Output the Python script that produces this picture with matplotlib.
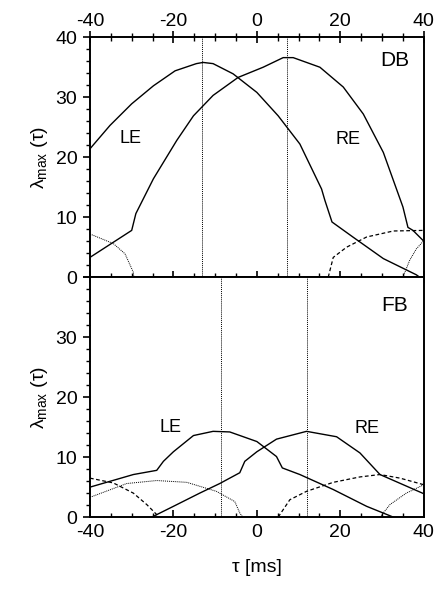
import matplotlib.pyplot as plt
from matplotlib.ticker import MultipleLocator

plt.rcParams['font.family'] = ['Liberation Sans', 'DejaVu Sans']
plt.rcParams['font.size'] = 14
plt.rcParams['axes.unicode_minus'] = False
plt.rcParams['mathtext.fontset'] = 'custom'
plt.rcParams['mathtext.rm'] = 'Liberation Sans'

# panel DB (arriba)
db_le_x = [-40, -35.2, -30, -24.8, -19.6, -14.5, -12.9, -10.5, -5.7, 0, 5.1, 10.3, 15.5, 16.3, 18, 23, 30.3, 38.2, 40]
db_le_y = [21.4, 25.3, 28.9, 31.9, 34.4, 35.6, 35.8, 35.6, 33.9, 30.8, 26.9, 22.2, 14.7, 12.8, 9.2, 6.7, 3.1, 0.4, -0.5]
db_re_x = [-40, -30, -29, -24.8, -19.2, -15.2, -10.5, -4.5, 1.5, 6.3, 8.7, 15.1, 20.7, 25.5, 30.3, 35, 36.2, 37.4, 40]
db_re_y = [3.3, 7.8, 10.6, 16.4, 22.8, 26.9, 30.3, 33.3, 35, 36.6, 36.6, 35, 31.7, 27.2, 20.8, 11.7, 8.3, 7.8, 6.0]
db_dot1_x = [-40, -34.4, -31.6, -29.6, -29.5]
db_dot1_y = [7.2, 5.6, 3.9, 0.8, 0]
db_dot2_x = [35, 36.6, 38.2, 40]
db_dot2_y = [0, 2.8, 4.7, 6.1]
db_dash_x = [17.1, 18.3, 21.5, 26.3, 32.7, 40]
db_dash_y = [0, 3.3, 5.0, 6.7, 7.7, 7.8]
db_vlines = [-13.1, 7.1]

# panel FB (abajo)
fb_le_x = [-40, -29.6, -24, -22.4, -20, -15.2, -10.5, -6.5, 0, 4.7, 6.1, 10.3, 18.3, 26.3, 32.7]
fb_le_y = [5.0, 7.1, 7.8, 9.3, 10.9, 13.6, 14.3, 14.2, 12.6, 10.1, 8.2, 7.1, 4.6, 1.8, 0]
fb_re_x = [-25.2, -20, -13.7, -8.9, -4.1, -2.9, 0, 4.7, 11.9, 19.1, 24.7, 29.5, 40]
fb_re_y = [0, 1.8, 4.0, 5.6, 7.4, 9.3, 10.9, 13.0, 14.3, 13.4, 10.7, 7.1, 3.9]
fb_dot1_x = [-40, -31.2, -24, -16.8, -9.7, -5.3, -4.1, -3.4]
fb_dot1_y = [3.3, 5.6, 6.1, 5.8, 4.3, 2.6, 0.7, 0]
fb_dot2_x = [29.5, 31.9, 35.8, 40]
fb_dot2_y = [0, 2.1, 4.0, 5.4]
fb_dash1_x = [-40, -34.4, -29.6, -26.4, -23.4]
fb_dash1_y = [6.5, 5.7, 4.0, 2.1, 0]
fb_dash2_x = [5.1, 7.9, 11.9, 18.3, 24.7, 29.5, 34.3, 40]
fb_dash2_y = [0, 2.9, 4.3, 5.8, 6.7, 7.1, 6.5, 5.4]
fb_vlines = [-8.7, 11.9]

fig = plt.figure(figsize=(4.41, 5.91), dpi=100)
ax1 = fig.add_axes([0.204, 0.531, 0.757, 0.406])
ax2 = fig.add_axes([0.204, 0.125, 0.757, 0.406])

def dibujar(ax, le, re, dots, dashes, vlines):
    ax.plot(le[0], le[1], color='black', lw=1.0)
    ax.plot(re[0], re[1], color='black', lw=1.0)
    for d in dots:
        ax.plot(d[0], d[1], color='black', lw=0.7, ls=(0, (1, 1)))
    for d in dashes:
        ax.plot(d[0], d[1], color='black', lw=0.9, ls=(0, (3, 2)))
    for v in vlines:
        ax.axvline(v, color='black', lw=0.7, ls=(0, (1, 1)))
    ax.set_xlim(-40, 40)
    ax.set_ylim(0, 40)
    ax.xaxis.set_major_locator(MultipleLocator(20))
    ax.xaxis.set_minor_locator(MultipleLocator(5))
    ax.yaxis.set_major_locator(MultipleLocator(10))
    ax.yaxis.set_minor_locator(MultipleLocator(2))
    for s in ax.spines.values():
        s.set_linewidth(1.4)
    ax.tick_params(axis='y', which='major', direction='out', length=5, width=1.2, pad=4)
    ax.tick_params(axis='y', which='minor', direction='out', length=3, width=1.0)
    ax.set_ylabel(r'λ$_{\mathrm{max}}$ (τ)', fontsize=14, labelpad=4)

dibujar(ax1, (db_le_x, db_le_y), (db_re_x, db_re_y),
        [(db_dot1_x, db_dot1_y), (db_dot2_x, db_dot2_y)],
        [(db_dash_x, db_dash_y)], db_vlines)
dibujar(ax2, (fb_le_x, fb_le_y), (fb_re_x, fb_re_y),
        [(fb_dot1_x, fb_dot1_y), (fb_dot2_x, fb_dot2_y)],
        [(fb_dash1_x, fb_dash1_y), (fb_dash2_x, fb_dash2_y)], fb_vlines)

# ticks x panel de arriba: etiquetas arriba, cruce en el medio
ax1.tick_params(axis='x', which='both', top=True, bottom=True, labeltop=True, labelbottom=False)
ax1.tick_params(axis='x', which='major', direction='inout', length=9, width=1.2, pad=1)
ax1.tick_params(axis='x', which='minor', direction='inout', length=6, width=1.0)

ax2.tick_params(axis='x', which='both', top=False, bottom=True, direction='in')
ax2.tick_params(axis='x', which='major', length=5, width=1.2, pad=5)
ax2.tick_params(axis='x', which='minor', length=3, width=1.0)
ax2.set_yticks([0, 10, 20, 30, 40])
ax2.set_yticklabels(['0', '10', '20', '30', ''])
ax2.set_xlabel('τ [ms]', fontsize=14, labelpad=13)

ax1.text(33, 36.2, 'DB', fontsize=15, ha='center', va='center')
ax1.text(-30.4, 23.2, 'LE', fontsize=13, ha='center', va='center')
ax1.text(21.8, 23.0, 'RE', fontsize=13, ha='center', va='center')
ax2.text(33, 35.3, 'FB', fontsize=15, ha='center', va='center')
ax2.text(-20.6, 15.0, 'LE', fontsize=13, ha='center', va='center')
ax2.text(26.3, 14.7, 'RE', fontsize=13, ha='center', va='center')

fig.savefig('out.png', dpi=100)
